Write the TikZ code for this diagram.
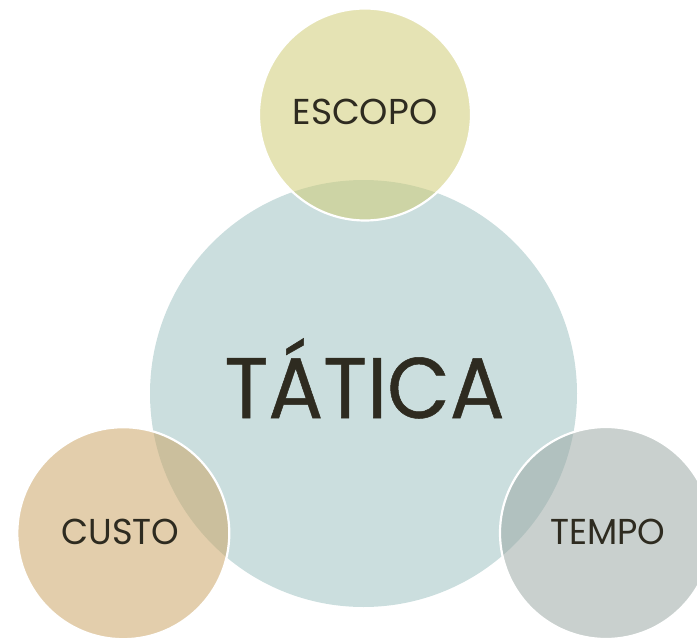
\documentclass[tikz,border=0pt]{standalone}
\usepackage{fontspec}
\setmainfont{Poppins}
\newfontfamily\bigfont[FakeBold=0.6]{Poppins}
\definecolor{bigc}{RGB}{203,222,222}
\definecolor{topc}{RGB}{208,204,119}
\definecolor{leftc}{RGB}{204,166,104}
\definecolor{rightc}{RGB}{157,170,166}
\definecolor{txt}{RGB}{46,43,32}
\tikzset{
  bigcircle/.style={circle, inner sep=0pt, fill=bigc, draw=none},
  smallcircle/.style={circle, inner sep=0pt, minimum size=212pt, fill opacity=0.55, draw=white, draw opacity=1, line width=2.2pt, text opacity=1},
  label/.style={text=txt, inner sep=0pt, anchor=base},
}
\begin{document}
\begin{tikzpicture}[x=1pt,y=-1pt]
\useasboundingbox (0,0) rectangle (697,640);
\clip (0,0) rectangle (697,640);
\node[bigcircle, minimum size=427pt] (big) at (363.5,393.5) {};
\node[smallcircle, fill=topc] (top) at (365,114.5) {};
\node[smallcircle, fill=leftc] (left) at (123.3,533.2) {};
\node[smallcircle, fill=rightc] (right) at (606,533) {};
\node[label, xscale=0.945, font=\bigfont\fontsize{86}{86}\selectfont] (tatica) at (364.5,418) {TÁTICA};
\node[label, font=\fontsize{36}{36}\selectfont] (escopo) at (365,124) {ESCOPO};
\node[label, xscale=0.975, font=\fontsize{36}{36}\selectfont] (custo) at (120.5,544) {CUSTO};
\node[label, xscale=0.975, font=\fontsize{36}{36}\selectfont] (tempo) at (608,544) {TEMPO};
\end{tikzpicture}
\end{document}
